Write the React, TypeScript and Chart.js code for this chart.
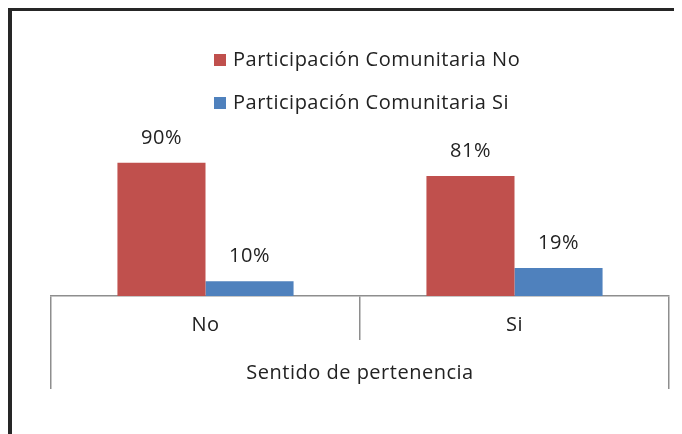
import React, { useEffect, useRef } from "react";
import { Chart, registerables } from "chart.js";

Chart.register(...registerables);

const categories = ["No", "Si"];
const groupTitle = ["Sentido de pertenencia"];
const seriesNames = ["Participación Comunitaria No", "Participación Comunitaria Si"];
const seriesNo = [90, 81];
const seriesSi = [10, 19];
const seriesColors = ["#C0504D", "#4F81BD"];

const FONT = "'Open Sans', Lato, sans-serif";
const FONT_SIZE = 20;
const TEXT_COLOR = "#222222";
const GRID_COLOR = "#8e8e8e";

const spacing = {
  id: "spacing",
  beforeDraw(chart: any) {
    (chart.ctx as any).letterSpacing = "0.5px";
  },
};

const valueLabels = {
  id: "valueLabels",
  afterDatasetsDraw(chart: any) {
    const ctx = chart.ctx;
    ctx.save();
    ctx.font = `${FONT_SIZE}px ${FONT}`;
    ctx.fillStyle = TEXT_COLOR;
    ctx.textAlign = "center";
    ctx.textBaseline = "middle";
    chart.data.datasets.forEach((ds: any, i: number) => {
      const meta = chart.getDatasetMeta(i);
      meta.data.forEach((el: any, j: number) => {
        ctx.fillText(`${ds.data[j]}%`, el.x, el.y - 25);
      });
    });
    ctx.restore();
  },
};

const stackedLegend = {
  id: "stackedLegend",
  afterDraw(chart: any) {
    const ctx = chart.ctx;
    ctx.save();
    ctx.font = `${FONT_SIZE}px ${FONT}`;
    ctx.textBaseline = "middle";
    ctx.textAlign = "left";
    const rows = [49, 92];
    chart.data.datasets.forEach((ds: any, i: number) => {
      const cy = rows[i];
      ctx.fillStyle = ds.backgroundColor;
      ctx.fillRect(202, cy - 6, 12, 12);
      ctx.fillStyle = TEXT_COLOR;
      ctx.fillText(ds.label, 221, cy);
    });
    ctx.restore();
  },
};

export default function App() {
  const canvasRef = useRef<HTMLCanvasElement | null>(null);

  useEffect(() => {
    if (!canvasRef.current) return;
    const chart = new Chart(canvasRef.current, {
      type: "bar",
      data: {
        labels: categories,
        datasets: [
          {
            label: seriesNames[0],
            data: seriesNo,
            backgroundColor: seriesColors[0],
            barPercentage: 1,
            categoryPercentage: 0.57,
          },
          {
            label: seriesNames[1],
            data: seriesSi,
            backgroundColor: seriesColors[1],
            barPercentage: 1,
            categoryPercentage: 0.57,
          },
        ],
      },
      options: {
        animation: false,
        responsive: true,
        maintainAspectRatio: false,
        layout: { padding: { left: 39, right: 5, top: 137, bottom: 45 } },
        plugins: {
          legend: { display: false },
          tooltip: { enabled: false },
        },
        scales: {
          x: {
            type: "category",
            offset: true,
            grid: {
              offset: true,
              drawOnChartArea: false,
              drawTicks: true,
              tickLength: 44,
              color: GRID_COLOR,
              lineWidth: 1.5,
            },
            border: { display: true, color: GRID_COLOR, width: 1.5 },
            ticks: {
              padding: -27,
              color: TEXT_COLOR,
              font: { family: FONT, size: FONT_SIZE },
              maxRotation: 0,
            },
            afterFit: (scale: any) => {
              scale.height = 44;
            },
          },
          y: {
            display: false,
            min: 0,
            max: 100,
          },
          x2: {
            type: "category",
            position: "bottom",
            labels: groupTitle,
            offset: true,
            grid: {
              offset: true,
              drawOnChartArea: false,
              drawTicks: true,
              tickLength: 49,
              color: GRID_COLOR,
              lineWidth: 1.5,
            },
            border: { display: false },
            ticks: {
              padding: -28,
              color: TEXT_COLOR,
              font: { family: FONT, size: FONT_SIZE },
              maxRotation: 0,
            },
            afterFit: (scale: any) => {
              scale.height = 49;
            },
          },
        },
      },
      plugins: [spacing, valueLabels, stackedLegend],
    });
    return () => chart.destroy();
  }, []);

  return (
    <div
      style={{
        position: "relative",
        height: 423,
        marginTop: -1,
        borderTop: "4px solid #262626",
        borderLeft: "4px solid #262626",
        background: "#ffffff",
      }}
    >
      <canvas ref={canvasRef} />
    </div>
  );
}
